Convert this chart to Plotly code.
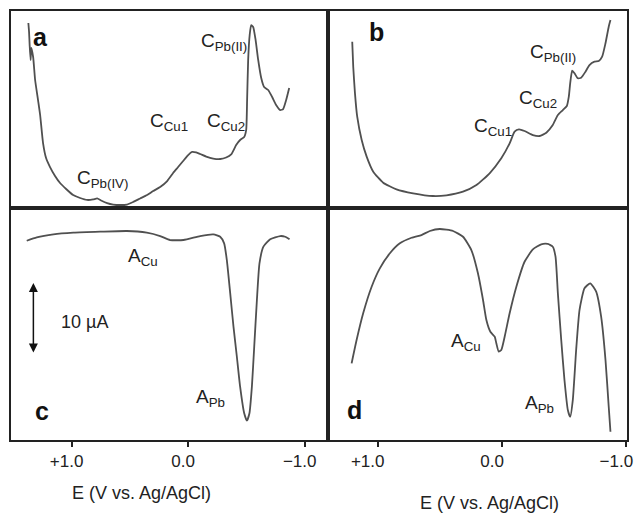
import plotly.graph_objects as go

# ---------------- data (E in V vs Ag/AgCl, current in µA, offsets arbitrary) -------------
E_a = [1.371, 1.365, 1.360, 1.352, 1.346, 1.330, 1.313, 1.288, 1.270, 1.245, 1.219, 1.185,
       1.142, 1.099, 1.047, 0.987, 0.927, 0.867, 0.815, 0.781, 0.747, 0.695, 0.644, 0.584,
       0.524, 0.472, 0.412, 0.352, 0.300, 0.240, 0.180, 0.129, 0.086, 0.043, 0.000, -0.034,
       -0.069, -0.103, -0.155, -0.215, -0.275, -0.326, -0.369, -0.412, -0.446, -0.481,
       -0.498, -0.506, -0.515, -0.528, -0.541, -0.558, -0.579, -0.601, -0.627, -0.652,
       -0.687, -0.721, -0.755, -0.790, -0.815, -0.841, -0.867]
I_a = [26.06, 24.79, 22.96, 20.85, 22.54, 21.27, 18.03, 15.21, 13.10, 9.15, 7.04, 5.77,
       4.51, 3.52, 2.68, 1.83, 1.41, 1.13, 1.20, 1.34, 1.06, 0.70, 0.49, 0.42,
       0.49, 0.85, 1.34, 1.83, 2.39, 2.96, 3.80, 4.93, 5.77, 6.62, 7.46, 7.89,
       7.82, 7.61, 7.25, 6.97, 6.90, 7.11, 7.54, 8.87, 9.58, 10.00,
       10.99, 15.21, 20.85, 24.37, 25.77, 25.49, 23.66, 20.85, 18.31, 17.04,
       16.62, 15.63, 14.51, 13.80, 13.94, 15.21, 16.90]

E_b = [1.205, 1.197, 1.183, 1.165, 1.129, 1.089, 1.036, 0.956, 0.849, 0.715, 0.555, 0.447,
       0.314, 0.206, 0.100, 0.006, -0.061, -0.101, -0.136, -0.181, -0.248, -0.302, -0.356,
       -0.408, -0.449, -0.489, -0.521, -0.537, -0.548, -0.564, -0.583, -0.609, -0.636,
       -0.671, -0.703, -0.743, -0.778, -0.805, -0.832, -0.858, -0.872]
I_b = [23.42, 19.90, 16.15, 12.86, 9.58, 7.23, 5.11, 3.56, 2.63, 2.07, 1.69, 1.79,
       2.30, 3.24, 4.89, 7.00, 9.11, 10.75, 11.08, 10.85, 10.28, 10.14, 10.61,
       11.69, 13.10, 13.80, 14.37, 15.68, 17.56, 19.34, 18.97, 18.27, 18.35,
       19.20, 20.14, 20.61, 20.70, 21.31, 23.20, 25.54, 26.48]

E_c = [1.385, 1.299, 1.156, 0.985, 0.755, 0.526, 0.355, 0.240, 0.155, 0.040, -0.103,
       -0.217, -0.275, -0.309, -0.332, -0.361, -0.389, -0.418, -0.446, -0.481, -0.504,
       -0.526, -0.547, -0.567, -0.590, -0.612, -0.646, -0.704, -0.790, -0.833, -0.870]
I_c = [28.07, 28.55, 28.97, 29.20, 29.34, 29.44, 29.20, 28.73, 28.17, 28.17, 28.73,
       28.97, 28.63, 27.70, 25.35, 20.66, 15.96, 11.73, 7.51, 3.76, 2.72,
       3.76, 7.51, 13.14, 19.72, 24.89, 27.23, 28.27, 28.73, 28.63, 28.27]

E_d = [1.210, 1.170, 1.117, 1.049, 0.983, 0.902, 0.822, 0.728, 0.648, 0.581, 0.501, 0.394,
       0.314, 0.247, 0.194, 0.153, 0.126, 0.094, 0.059, 0.046, 0.027, 0.006, -0.021,
       -0.061, -0.115, -0.181, -0.248, -0.315, -0.368, -0.408, -0.430, -0.449, -0.476,
       -0.502, -0.529, -0.548, -0.569, -0.596, -0.623, -0.663, -0.709, -0.757, -0.797,
       -0.832, -0.858, -0.872]
I_d = [10.80, 14.08, 17.85, 21.59, 24.18, 26.30, 27.70, 28.49, 28.87, 29.44, 29.72, 29.44,
       28.63, 26.76, 23.48, 19.72, 16.90, 15.25, 14.55, 13.62, 12.44, 12.68, 14.55,
       17.85, 21.59, 25.11, 26.86, 27.56, 27.61, 27.23, 25.82, 20.66, 14.08,
       8.45, 4.23, 3.28, 5.63, 12.68, 18.31, 21.37, 22.07, 20.89, 17.37,
       11.27, 4.69, 1.17]

tick_vals = [1.0, 0.0, -1.0]
tick_text = ["+1.0", "0.0", "\u22121.0"]
axis_title = "E (V vs. Ag/AgCl)"

# ---------------- figure -------------
FONT = "Liberation Sans, Arial, sans-serif"
LINE_COL = "#505050"
BOX_COL = "#222222"

fig = go.Figure()
series = [(E_a, I_a, "x", "y"), (E_b, I_b, "x2", "y2"),
          (E_c, I_c, "x3", "y3"), (E_d, I_d, "x4", "y4")]
for E, I, xa, ya in series:
    fig.add_trace(go.Scatter(x=E, y=I, xaxis=xa, yaxis=ya, mode="lines",
                             line=dict(color=LINE_COL, width=1.8, shape="spline", smoothing=0.5),
                             showlegend=False, hoverinfo="skip"))

xl = [0, 0.5146]
xr = [0.5146, 1]
yb = [0, 0.5408]
yt = [0.5408, 1]
rng_left = [1.52, -1.20]
rng_right = [1.40, -1.005]

box = dict(showline=True, linecolor=BOX_COL, linewidth=1.8, mirror=True, automargin=False,
           showgrid=False, zeroline=False, fixedrange=True)
noticks = dict(showticklabels=False, ticks="")
bot_ticks = dict(tickmode="array", tickvals=tick_vals, ticktext=tick_text, ticks="outside",
                 ticklen=5, tickwidth=1.5, tickcolor=BOX_COL, ticklabeloverflow="allow",
                 tickfont=dict(family=FONT, size=17, color="#222"))

fig.update_layout(
    width=635, height=513,
    margin=dict(l=11, r=8, t=11, b=73, autoexpand=False),
    paper_bgcolor="white", plot_bgcolor="white",
    xaxis=dict(domain=xl, range=rng_left, anchor="y", **box, **noticks),
    yaxis=dict(domain=yt, range=[0, 27.75], anchor="x", **box, **noticks),
    xaxis2=dict(domain=xr, range=rng_right, anchor="y2", **box, **noticks),
    yaxis2=dict(domain=yt, range=[0, 27.75], anchor="x2", **box, **noticks),
    xaxis3=dict(domain=xl, range=rng_left, anchor="y3", ticklabelshift=5, **box, **bot_ticks),
    yaxis3=dict(domain=yb, range=[0, 32.68], anchor="x3", **box, **noticks),
    xaxis4=dict(domain=xr, range=rng_right, anchor="y4", ticklabelshift=10, **box, **bot_ticks),
    yaxis4=dict(domain=yb, range=[0, 32.68], anchor="x4", **box, **noticks),
)

ann = []
big = dict(family=FONT, size=25, color="#111")
lab = dict(family=FONT, size=19, color="#222")
ttl = dict(family=FONT, size=18, color="#222")


def label(text, x, y, xr_, yr_, xanchor="left", font=lab):
    ann.append(dict(text=text, x=x, y=y, xref=xr_, yref=yr_, showarrow=False,
                    xanchor=xanchor, yanchor="middle", font=font))


# panel letters
label("<b>a</b>", 1.270, 24.08, "x", "y", "center", big)
label("<b>b</b>", 1.007, 24.79, "x2", "y2", "center", big)
label("<b>c</b>", 1.253, 4.08, "x3", "y3", "center", big)
label("<b>d</b>", 1.183, 4.23, "x4", "y4", "center", big)

# peak labels
label("C<sub>Pb(II)</sub>", -0.094, 23.38, "x", "y")
label("C<sub>Cu1</sub>", 0.343, 12.11, "x", "y")
label("C<sub>Cu2</sub>", -0.146, 12.11, "x", "y")
label("C<sub>Pb(IV)</sub>", 0.970, 4.08, "x", "y")

label("C<sub>Pb(II)</sub>", -0.205, 21.83, "x2", "y2")
label("C<sub>Cu2</sub>", -0.117, 15.35, "x2", "y2")
label("C<sub>Cu1</sub>", 0.244, 11.41, "x2", "y2")

label("A<sub>Cu</sub>", 0.532, 25.77, "x3", "y3")
label("A<sub>Pb</sub>", -0.052, 5.92, "x3", "y3")
label("10 \u00b5A", 1.107, 16.62, "x3", "y3", font=dict(family=FONT, size=18, color="#222"))

label("A<sub>Cu</sub>", 0.429, 13.80, "x4", "y4")
label("A<sub>Pb</sub>", -0.165, 5.07, "x4", "y4")

# 10 µA scale arrow
ann.append(dict(x=1.328, y=22.11, ax=1.328, ay=12.11, xref="x3", yref="y3",
                axref="x3", ayref="y3", text="", showarrow=True, arrowhead=2,
                arrowside="end+start", arrowwidth=1.5, arrowsize=1.2, arrowcolor="#111"))

# x-axis titles
ann.append(dict(text=axis_title, x=(141 - 11) / 616, y=(440 - 493) / 429, xref="paper",
                yref="paper", showarrow=False, xanchor="center", yanchor="middle", font=ttl))
ann.append(dict(text=axis_title, x=(489 - 11) / 616, y=(440 - 503) / 429, xref="paper",
                yref="paper", showarrow=False, xanchor="center", yanchor="middle", font=ttl))

fig.update_layout(annotations=ann)
fig.write_html("out.html")
